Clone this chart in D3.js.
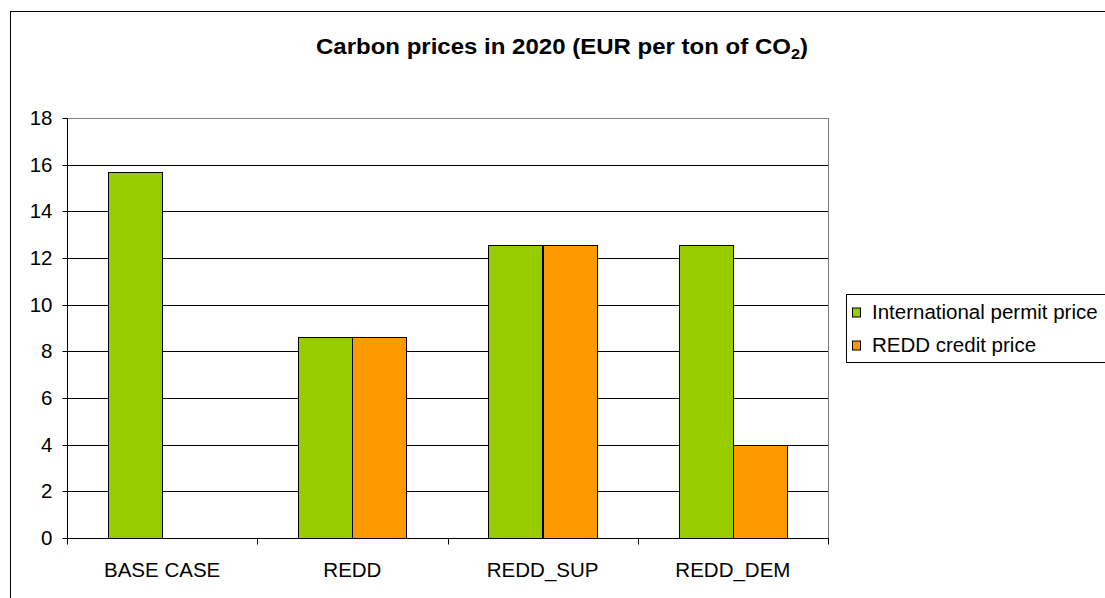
<!DOCTYPE html>
<html><head><meta charset="utf-8">
<script src="https://cdn.jsdelivr.net/npm/d3@7"></script>
<style>body{margin:0;background:#fff}svg{display:block}text{font-family:"Liberation Sans",Arial,sans-serif}</style>
</head><body>
<svg id="c" width="1105" height="598"></svg>
<script>
const categories = ["BASE CASE", "REDD", "REDD_SUP", "REDD_DEM"];
const seriesNames = ["International permit price", "REDD credit price"];
const permitPrice = [15.7, 8.6, 12.55, 12.55];
const reddPrice = [null, 8.6, 12.55, 4.0];
const yTicks = [0, 2, 4, 6, 8, 10, 12, 14, 16, 18];
const colors = ["#99CC00", "#FF9900"];

const svg = d3.select("#c");
const L = 67, R = 828, T = 118, B = 538;
const FS = 20.5;

svg.append("rect").attr("x", 10.5).attr("y", 11.5).attr("width", 1200).attr("height", 700)
  .attr("fill", "#fff").attr("stroke", "#000").attr("stroke-width", 1);

const y = d3.scaleLinear().domain([0, 18]).range([B, T]);
const x0 = d3.scaleBand().domain(categories).range([L, R]).padding(0);
const bw = x0.bandwidth();
const x1 = d3.scaleBand().domain([0, 1]).range([bw * 0.215, bw * 0.785]).padding(0);

// gridlines
svg.append("g").selectAll("line").data(yTicks.filter(d => d > 0)).join("line")
  .attr("x1", L).attr("x2", R).attr("y1", d => Math.round(y(d)) + 0.5).attr("y2", d => Math.round(y(d)) + 0.5)
  .attr("stroke", d => d === 18 ? "#808080" : "#000").attr("stroke-width", 1);
// right border
svg.append("line").attr("x1", R + 0.5).attr("x2", R + 0.5).attr("y1", T).attr("y2", B).attr("stroke", "#808080");

// bars
const g = svg.append("g");
categories.forEach((c, i) => {
  const vals = [permitPrice[i], reddPrice[i]];
  vals.forEach((v, s) => {
    if (v == null) return;
    g.append("rect")
      .attr("x", Math.round(x0(c) + x1(s)) + 0.5)
      .attr("y", Math.round(y(v)) + 0.5)
      .attr("width", Math.round(x1.bandwidth()))
      .attr("height", Math.round(y(0)) - Math.round(y(v)))
      .attr("fill", colors[s]).attr("stroke", "#000").attr("stroke-width", 1);
  });
});

// y axis
const ya = svg.append("g").attr("transform", `translate(${L + 0.5},0.5)`)
  .call(d3.axisLeft(y).tickValues(yTicks).tickSize(5).tickPadding(10).tickFormat(d3.format("d")));
ya.select(".domain").attr("stroke", "#000").attr("d", `M0,${T}V${B}`);
ya.selectAll(".tick line").attr("stroke", "#000");
ya.selectAll(".tick text").attr("font-size", FS).attr("fill", "#000").attr("font-family", '"Liberation Sans",Arial,sans-serif');
ya.selectAll(".tick").attr("transform", d => `translate(0,${Math.round(y(d))})`);

// x axis
const xa = svg.append("g").attr("transform", `translate(0,${B + 0.5})`);
xa.append("line").attr("x1", L).attr("x2", R + 1).attr("y1", 0).attr("y2", 0).attr("stroke", "#000");
const bounds = categories.map(c => x0(c)).concat([R]);
xa.selectAll("line.t").data(bounds).join("line").attr("class", "t")
  .attr("x1", d => Math.round(d) + 0.5).attr("x2", d => Math.round(d) + 0.5).attr("y1", 0).attr("y2", 6).attr("stroke", "#000");
xa.selectAll("text").data(categories).join("text")
  .attr("x", d => x0(d) + bw / 2).attr("y", 38).attr("text-anchor", "middle")
  .attr("font-size", FS).attr("fill", "#000").text(d => d);

// title
const title = svg.append("text").attr("x", 562).attr("y", 54).attr("text-anchor", "middle")
  .attr("font-size", 22).attr("font-weight", "bold").attr("fill", "#000")
  .attr("textLength", 492).attr("lengthAdjust", "spacingAndGlyphs");
title.append("tspan").text("Carbon prices in 2020 (EUR per ton of CO");
title.append("tspan").attr("font-size", 15).attr("dy", 5).text("2");
title.append("tspan").attr("dy", -5).text(")");

// legend
const lg = svg.append("g");
lg.append("rect").attr("x", 846.5).attr("y", 294.5).attr("width", 300).attr("height", 68)
  .attr("fill", "#fff").attr("stroke", "#000");
seriesNames.forEach((n, i) => {
  const cy = 312.5 + i * 33;
  lg.append("rect").attr("x", 852.5).attr("y", cy - 4.5).attr("width", 8).attr("height", 9)
    .attr("fill", colors[i]).attr("stroke", "#000");
  lg.append("text").attr("x", 872).attr("y", cy + 6).attr("font-size", FS).attr("fill", "#000").text(n);
});
</script>
</body></html>
